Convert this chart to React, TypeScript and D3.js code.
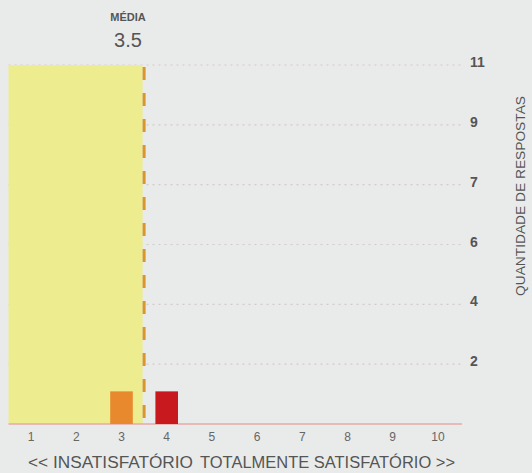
import React from "react";
import * as d3 from "d3";

const categories = ["1", "2", "3", "4", "5", "6", "7", "8", "9", "10"];
const counts = [0, 0, 1, 1, 0, 0, 0, 0, 0, 0];
const barColors = ["#e8892e", "#e8892e", "#e8892e", "#c8191e", "#c8191e", "#c8191e", "#c8191e", "#c8191e", "#c8191e", "#c8191e"];
const meanValue = 3.5;
const yMax = 11;
const tickCount = 6;
const leftLabel = "<< INSATISFATÓRIO";
const rightLabel = "TOTALMENTE SATISFATÓRIO >>";
const meanTitle = "MÉDIA";
const yTitle = "QUANTIDADE DE RESPOSTAS";

const W = 532;
const H = 473;
const FONT = "'Liberation Sans', Arial, sans-serif";

export default function App() {
  const x = d3
    .scaleBand<string>()
    .domain(categories)
    .range([8.5, 460.5])
    .paddingInner(0.5)
    .paddingOuter(0.25);
  const xc = (c: string) => (x(c) as number) + x.bandwidth() / 2;
  const xLin = d3.scaleLinear().domain([1, 10]).range([xc("1"), xc("10")]);
  const y = d3.scaleLinear().domain([0, yMax]).range([424, 65]);
  const ticks = d3.range(1, tickCount + 1).map((i) => (yMax * i) / tickCount);
  const meanX = xLin(meanValue);

  return (
    <div style={{ position: "absolute", left: 0, top: 0 }}>
      <svg width={W} height={H} style={{ display: "block", background: "#e9ebea" }} fontFamily={FONT}>
        {/* grid */}
        {ticks.map((t) => (
          <g key={t}>
            <line x1={8.5} x2={462} y1={y(t)} y2={y(t)} stroke="#d6c9c9" strokeWidth={1.2} strokeDasharray="2,4" />
            <text x={470} y={y(t)} dy="0.15em" fontSize={14} fill="#555" fontWeight="bold">
              {Math.round(t)}
            </text>
          </g>
        ))}
        {/* mean region */}
        <rect x={8.5} y={y(yMax)} width={meanX - 8.5 - 1.5} height={y(0) - y(yMax)} fill="#eded8f" />
        {/* baseline */}
        <line x1={8.5} x2={462} y1={y(0)} y2={y(0)} stroke="#e6a9a9" strokeWidth={1.5} />
        {/* bars */}
        {categories.map((c, i) =>
          counts[i] > 0 ? (
            <rect
              key={c}
              x={x(c)}
              y={y(counts[i])}
              width={x.bandwidth()}
              height={y(0) - y(counts[i])}
              fill={barColors[i]}
            />
          ) : null
        )}
        {/* mean line */}
        <line x1={meanX} x2={meanX} y1={y(yMax)} y2={y(0)} stroke="#d9962e" strokeWidth={3} strokeDasharray="13,13" strokeDashoffset={-2} />
        {/* x labels */}
        {categories.map((c) => (
          <text key={c} x={xc(c)} y={441} textAnchor="middle" fontSize={12} fill="#666">
            {c}
          </text>
        ))}
        <text x={28} y={468} fontSize={16} fill="#555" textLength={165} lengthAdjust="spacingAndGlyphs">{leftLabel}</text>
        <text x={200} y={468} fontSize={16} fill="#555" textLength={255} lengthAdjust="spacingAndGlyphs">{rightLabel}</text>
        {/* mean header */}
        <text x={128} y={21} textAnchor="middle" fontSize={11} fill="#555" fontWeight="bold">{meanTitle}</text>
        <text x={128} y={47} textAnchor="middle" fontSize={20} fill="#555">{meanValue.toFixed(1)}</text>
        {/* y title */}
        <text transform={`translate(525,196) rotate(-90)`} textAnchor="middle" fontSize={12} fill="#555" textLength={200} lengthAdjust="spacingAndGlyphs">{yTitle}</text>
      </svg>
    </div>
  );
}
